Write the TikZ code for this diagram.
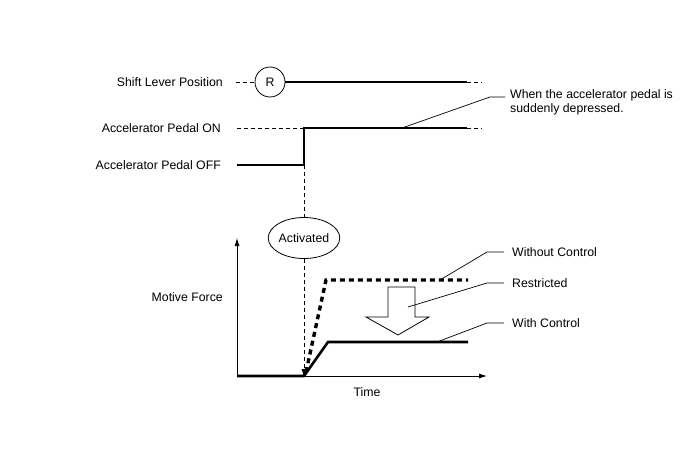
\documentclass[tikz,border=0pt]{standalone}
\usepackage{fontspec}
\setmainfont{Liberation Sans}
\usetikzlibrary{arrows.meta,shapes.geometric}
\begin{document}
\begin{tikzpicture}[x=1pt,y=-1pt,
  lbl/.style={font=\fontsize{12.3}{13.5}\selectfont, inner sep=0pt},
  thk/.style={line width=2.6pt},
  midln/.style={line width=2pt},
  thinln/.style={line width=0.8pt},
  dashln/.style={line width=0.8pt, dash pattern=on 4pt off 3pt},
  thkdash/.style={line width=3.4pt, dash pattern=on 5pt off 4pt},
  leader/.style={line width=0.7pt},
  axis/.style={line width=0.8pt, -{Latex[length=8pt,width=5pt]}}]
\fill[white] (0,0) rectangle (688,463);
\useasboundingbox (0,0) rectangle (688,463);
% left labels
\node[lbl, anchor=east] (shift) at (223,82) {Shift Lever Position};
\node[lbl, anchor=east] (accon) at (221,128) {Accelerator Pedal ON};
\node[lbl, anchor=east] (accoff) at (221,165) {Accelerator Pedal OFF};
\node[lbl, anchor=east] (mf) at (223,297) {Motive Force};
\node[lbl] (time) at (367,392) {Time};
% shift lever
\node[lbl, circle, draw, line width=0.8pt, minimum size=30pt] (R) at (270,82) {R};
\coordinate (s0) at (236,82);
\coordinate (s1) at (467,82);
\coordinate (s2) at (482,82);
\draw[dashln] (s0) -- (R.west);
\draw[midln] (R.east) -- (s1);
\draw[dashln] (s1) -- (s2);
% accelerator
\coordinate (a0) at (237,128);
\coordinate (a1) at (304,128);
\coordinate (a2) at (467,128);
\coordinate (a3) at (482,128);
\coordinate (b0) at (237,165);
\coordinate (b1) at (304,165);
\draw[dashln] (a0) -- (a1);
\draw[thk] (b0) -- (b1) -- (a1) -- (a2);
\draw[dashln] (a2) -- (a3);
% activated
\node[lbl, ellipse, draw, line width=0.8pt, minimum width=67pt, minimum height=41pt] (act) at (304,238) {Activated};
\coordinate (t0) at (304,376);
\draw[dashln] (b1) -- (act.north);
\draw[dashln, -{Latex[length=9pt,width=5pt]}] (act.south) -- ([yshift=-2pt]t0);
% axes
\coordinate (O) at (237,376);
\coordinate (ytop) at (237,238);
\coordinate (xend) at (487,376);
\draw[axis] (O) -- (ytop);
\draw[axis] (O) -- (xend);
% curves
\coordinate (w1) at (328,342);
\coordinate (w2) at (468,342);
\coordinate (n0) at (306,372);
\coordinate (n1) at (326,280);
\coordinate (n2) at (468,280);
\draw[thk, line join=miter] (O) -- (t0) -- (w1) -- (w2);
\draw[thkdash] (n0) -- (n1) -- (n2);
% hollow arrow
\draw[line width=0.8pt, fill=white] (388,287) -- (415,287) -- (415,317) -- (429,317) -- (398,335) -- (366,317) -- (388,317) -- cycle;
\coordinate (ra) at (408,307);
% right labels
\node[lbl, anchor=west, align=left] (when) at (510,102.5) {When the accelerator pedal is\\suddenly depressed.};
\node[lbl, anchor=west] (woc) at (512,252) {Without Control};
\node[lbl, anchor=west] (res) at (512,283) {Restricted};
\node[lbl, anchor=west] (wc) at (512,323) {With Control};
\coordinate (l1) at (402,128);
\coordinate (l1e) at (490,97);
\coordinate (l1f) at (505,97);
\draw[leader] (l1) -- (l1e) -- (l1f);
\draw[leader] (440,280) -- (487,252) -- ([xshift=-8pt]woc.west);
\draw[leader] (ra) -- (487,283) -- ([xshift=-8pt]res.west);
\draw[leader] (437,342) -- (487,323) -- ([xshift=-8pt]wc.west);
\end{tikzpicture}
\end{document}
